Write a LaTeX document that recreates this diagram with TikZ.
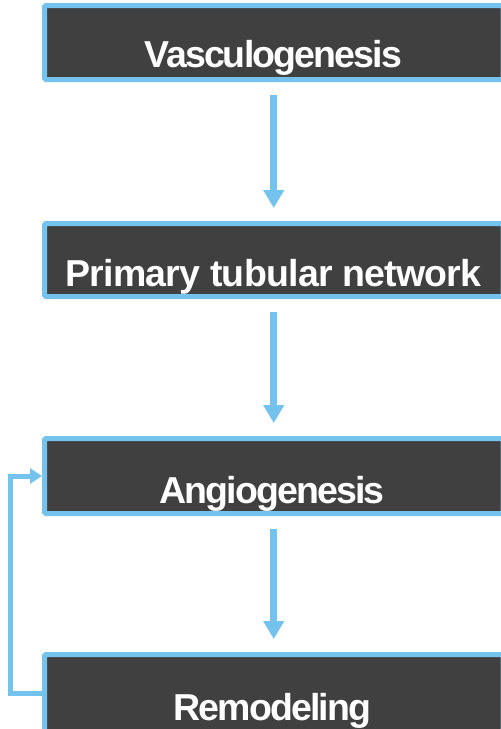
\documentclass[tikz,border=0pt]{standalone}
\usepackage{fontspec}
\setmainfont{Liberation Sans}
\newfontfamily\boxfont[LetterSpace=-5]{Liberation Sans Bold}
\newfontfamily\boxfontwide[LetterSpace=-2]{Liberation Sans Bold}
\usetikzlibrary{arrows.meta}
\definecolor{bluebord}{HTML}{74C3EE}
\definecolor{boxfill}{HTML}{404040}
\tikzset{
  stage/.style={draw=bluebord, fill=boxfill, line width=5pt, rounded corners=1.5pt,
    minimum width=458.5pt, inner sep=0pt, outer sep=0pt},
  stagelabel/.style={text=white, font=\boxfont\fontsize{37.5}{40}\selectfont, anchor=base, inner sep=0pt},
  flow/.style={draw=bluebord, line width=7pt, -{Triangle[width=20pt,length=18pt]},
    shorten <=15.5pt, shorten >=15.5pt},
  back/.style={draw=bluebord, line width=5pt, -{Triangle[width=15pt,length=12pt]},
    shorten >=2.5pt}
}
\begin{document}
\begin{tikzpicture}[x=1pt,y=-1pt]
\useasboundingbox (0,0) rectangle (501,729);
\node[stage, minimum height=74pt] (b1) at (273.75,42.5) {};
\node[stage, minimum height=73pt] (b2) at (273.75,260) {};
\node[stage, minimum height=75pt] (b3) at (273.75,476) {};
\node[stage, minimum height=77pt] (b4) at (273.75,693) {};
\node[stagelabel] (t1) at (273.5,67) {Vasculogenesis};
\node[stagelabel, font=\boxfontwide\fontsize{37.5}{40}\selectfont] (t2) at (273.5,286) {Primary tubular network};
\node[stagelabel] (t3) at (272,503) {Angiogenesis};
\node[stagelabel] (t4) at (272.5,720) {Remodeling};
\draw[flow] (b1.south) -- (b2.north);
\draw[flow] (b2.south) -- (b3.north);
\draw[flow] (b3.south) -- (b4.north);
\draw[back] (b4.west) -- ++(-34,0) |- (b3.west);
\end{tikzpicture}
\end{document}
